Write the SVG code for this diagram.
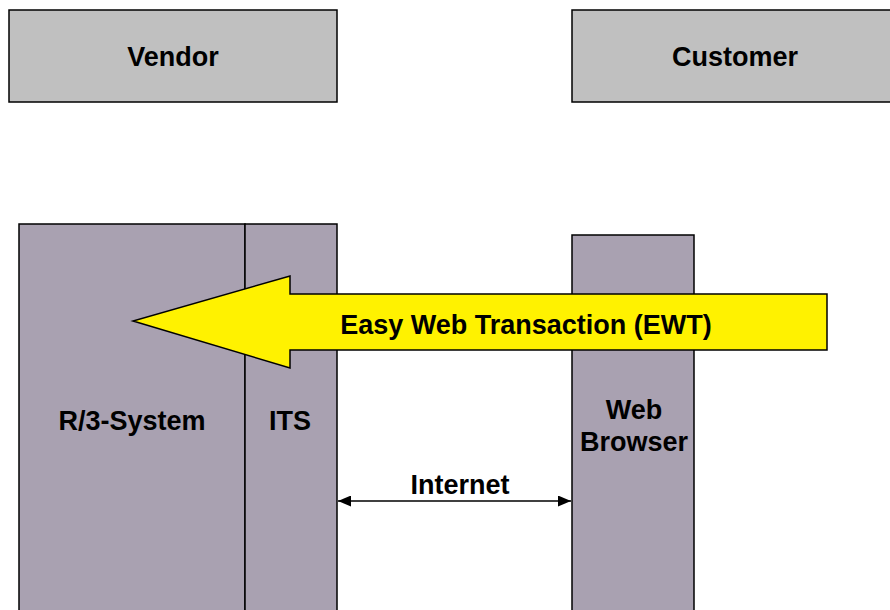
<svg xmlns="http://www.w3.org/2000/svg" width="890" height="610" viewBox="0 0 890 610">
<defs>
<style>
.hdr{fill:#c0c0c0;stroke:#000;stroke-width:1.5}
.sys{fill:#a9a1b1;stroke:#000;stroke-width:1.5}
.t{font-family:"Liberation Sans",Arial,sans-serif;font-weight:bold;font-size:27px;fill:#000;text-anchor:middle}
.conn{stroke:#000;stroke-width:1.5;fill:none}
</style>
<marker id="ah" markerWidth="13" markerHeight="11" refX="13" refY="5.5" orient="auto-start-reverse" markerUnits="userSpaceOnUse">
<path d="M0,0 L13,5.5 L0,11 Z" fill="#000"/>
</marker>
</defs>
<rect width="890" height="610" fill="#fff"/>
<g id="vendor"><rect class="hdr" x="9" y="10" width="328" height="92"/><text class="t" x="173" y="66">Vendor</text></g>
<g id="customer"><rect class="hdr" x="572" y="10" width="330" height="92"/><text class="t" x="735" y="66">Customer</text></g>
<g id="r3"><rect class="sys" x="19" y="224" width="226" height="400"/><text class="t" x="132" y="430">R/3-System</text></g>
<g id="its"><rect class="sys" x="245" y="224" width="92" height="400"/><text class="t" x="290" y="430">ITS</text></g>
<g id="browser"><rect class="sys" x="572" y="235" width="122" height="390"/><text class="t" x="634" y="419">Web</text><text class="t" x="634" y="451">Browser</text></g>
<g id="connectors">
<line class="conn" x1="338" y1="501" x2="571" y2="501" marker-start="url(#ah)" marker-end="url(#ah)"/>
<text class="t" x="460" y="494">Internet</text>
</g>
<g id="ewt">
<path d="M827,294 L290,294 L290,276 L133,321 L290,368 L290,350 L827,350 Z" fill="#fff200" stroke="#000" stroke-width="1.5" stroke-linejoin="miter"/>
<text class="t" x="526" y="334">Easy Web Transaction (EWT)</text>
</g>
</svg>
